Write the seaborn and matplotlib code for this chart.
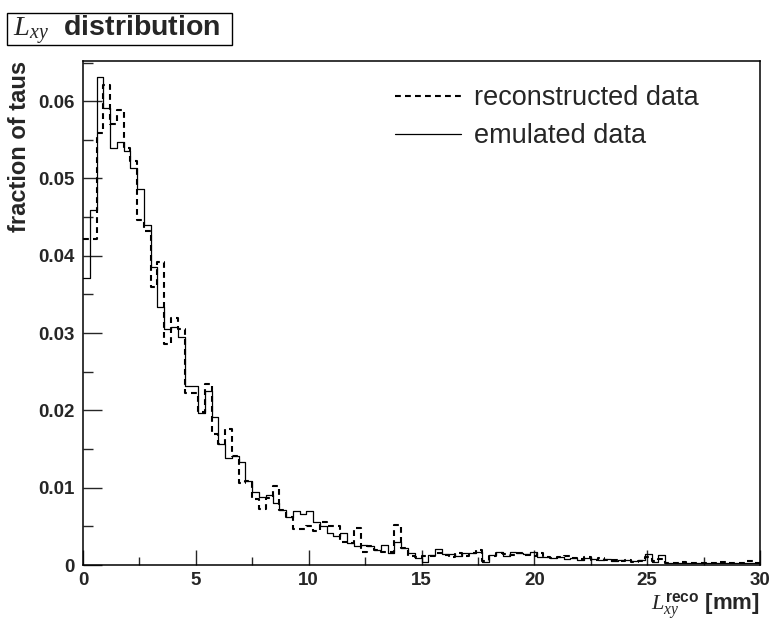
import numpy as np
import pandas as pd
import matplotlib
matplotlib.use("Agg")
import matplotlib.pyplot as plt
import seaborn as sns
from matplotlib.lines import Line2D
from matplotlib.patches import Rectangle
from matplotlib.ticker import MultipleLocator

# ---------------- data ----------------
n_bins, x_min, x_max = 100, 0.0, 30.0   # 100 bins of 0.3 mm
reconstructed = [
    0.0422, 0.0422, 0.0559, 0.0621, 0.0571, 0.0589, 0.0539, 0.0523, 0.0446, 0.0432,
    0.0360, 0.0392, 0.0286, 0.0319, 0.0305, 0.0222, 0.0222, 0.0198, 0.0234, 0.0170,
    0.0157, 0.0176, 0.0141, 0.0106, 0.0109, 0.0085, 0.0073, 0.0087, 0.0102, 0.0071,
    0.0062, 0.0046, 0.0046, 0.0050, 0.0044, 0.0055, 0.0050, 0.0050, 0.0030, 0.0028,
    0.0048, 0.0017, 0.0025, 0.0019, 0.0017, 0.0017, 0.0052, 0.0022, 0.0012, 0.0010,
    0.0012, 0.0011, 0.0015, 0.0013, 0.0010, 0.0016, 0.0012, 0.0016, 0.0019, 0.0005,
    0.0011, 0.0015, 0.0014, 0.0013, 0.0015, 0.0013, 0.0012, 0.0016, 0.0010, 0.0009,
    0.0010, 0.0011, 0.0009, 0.0008, 0.0010, 0.0007, 0.0009, 0.0006, 0.0007, 0.0005,
    0.0006, 0.0004, 0.0005, 0.0010, 0.0005, 0.0008, 0.0003, 0.0003, 0.0004, 0.0002,
    0.0003, 0.0002, 0.0003, 0.0002, 0.0004, 0.0002, 0.0003, 0.0002, 0.0005, 0.0003,
]
emulated = [
    0.0371, 0.0459, 0.0631, 0.0591, 0.0540, 0.0547, 0.0535, 0.0514, 0.0486, 0.0440,
    0.0385, 0.0334, 0.0305, 0.0308, 0.0295, 0.0232, 0.0232, 0.0197, 0.0225, 0.0192,
    0.0157, 0.0138, 0.0141, 0.0133, 0.0109, 0.0095, 0.0088, 0.0090, 0.0080, 0.0071,
    0.0062, 0.0070, 0.0066, 0.0070, 0.0056, 0.0050, 0.0042, 0.0037, 0.0041, 0.0028,
    0.0024, 0.0026, 0.0025, 0.0020, 0.0026, 0.0015, 0.0030, 0.0022, 0.0016, 0.0009,
    0.0004, 0.0013, 0.0021, 0.0014, 0.0014, 0.0012, 0.0015, 0.0016, 0.0017, 0.0004,
    0.0013, 0.0017, 0.0012, 0.0017, 0.0016, 0.0014, 0.0017, 0.0010, 0.0010, 0.0009,
    0.0010, 0.0008, 0.0009, 0.0007, 0.0009, 0.0008, 0.0007, 0.0008, 0.0005, 0.0006,
    0.0007, 0.0005, 0.0006, 0.0014, 0.0004, 0.0013, 0.0003, 0.0003, 0.0002, 0.0003,
    0.0002, 0.0002, 0.0002, 0.0003, 0.0002, 0.0002, 0.0003, 0.0002, 0.0002, 0.0002,
]
series_labels = ["reconstructed data", "emulated data"]
x_ticks = [0, 5, 10, 15, 20, 25, 30]
x_tick_labels = ["0", "5", "10", "15", "20", "25", "30"]
y_ticks = [0, 0.01, 0.02, 0.03, 0.04, 0.05, 0.06]
y_tick_labels = ["0", "0.01", "0.02", "0.03", "0.04", "0.05", "0.06"]

# ---------------- style ----------------
sns.set_style("ticks")
plt.rcParams["font.family"] = ["Liberation Sans", "DejaVu Sans"]
plt.rcParams["mathtext.fontset"] = "custom"
plt.rcParams["mathtext.it"] = "Liberation Serif:italic"
plt.rcParams["mathtext.rm"] = "Liberation Serif"
plt.rcParams["mathtext.bf"] = "Liberation Sans:bold"

fig = plt.figure(figsize=(7.71, 6.22), dpi=100)
ax = fig.add_axes([83 / 771, 57 / 622, 677 / 771, 504 / 622])

edges = np.linspace(x_min, x_max, n_bins + 1)
centers = 0.5 * (edges[:-1] + edges[1:])
df_rec = pd.DataFrame({"L": centers, "w": np.asarray(reconstructed, dtype=float)})
df_emu = pd.DataFrame({"L": centers, "w": np.asarray(emulated, dtype=float)})

dash = (0, (2.8, 2.0))
sns.histplot(data=df_rec, x="L", weights="w", bins=n_bins, binrange=(x_min, x_max),
             element="step", fill=False, color="black", linewidth=1.5,
             linestyle=dash, ax=ax)
sns.histplot(data=df_emu, x="L", weights="w", bins=n_bins, binrange=(x_min, x_max),
             element="step", fill=False, color="black", linewidth=0.9, ax=ax)

ax.set_xlim(0, 30)
ax.set_ylim(0, 0.0652)

for s in ax.spines.values():
    s.set_visible(True)
    s.set_linewidth(1.1)
    s.set_color("black")

ax.set_xticks(x_ticks)
ax.set_xticklabels(x_tick_labels, fontsize=13.5, fontweight="bold")
ax.set_yticks(y_ticks)
ax.set_yticklabels(y_tick_labels, fontsize=13.5, fontweight="bold")
ax.xaxis.set_minor_locator(MultipleLocator(2.5))
ax.yaxis.set_minor_locator(MultipleLocator(0.005))
ax.tick_params(axis="x", which="major", direction="in", length=11, width=1, pad=5)
ax.tick_params(axis="x", which="minor", direction="in", length=5.5, width=1)
ax.tick_params(axis="y", which="major", direction="in", length=14, width=1, pad=6)
ax.tick_params(axis="y", which="minor", direction="in", length=7, width=1)

ax.set_ylabel("fraction of taus", fontsize=17, fontweight="bold", loc="top")
ax.yaxis.set_label_coords(-(83 - 31) / 677, 1.0)
ax.set_xlabel(r"$L_{xy}^{\mathbf{reco}}$ [mm]", fontsize=16, fontweight="bold", loc="right")
ax.xaxis.set_label_coords(1.0, -(606 - 565) / 504)
ax.xaxis.label.set_verticalalignment("center")

handles = [Line2D([], [], color="black", lw=1.5, linestyle=dash),
           Line2D([], [], color="black", lw=0.9)]
ax.legend(handles, series_labels, loc="upper left", bbox_to_anchor=(0.461, 0.952),
          frameon=False, fontsize=19.5, handlelength=2.45, handletextpad=0.45,
          borderpad=0, borderaxespad=0, labelspacing=0.45)

fig.patches.append(Rectangle((7 / 771, 1 - 45 / 622), 225 / 771, 32 / 622,
                             transform=fig.transFigure, facecolor="white",
                             edgecolor="black", linewidth=1))
fig.text(13 / 771, 1 - 36 / 622, r"$L_{xy}$  distribution", fontsize=20.5,
         fontweight="bold", va="baseline", ha="left")

fig.savefig("out.png", dpi=100)
